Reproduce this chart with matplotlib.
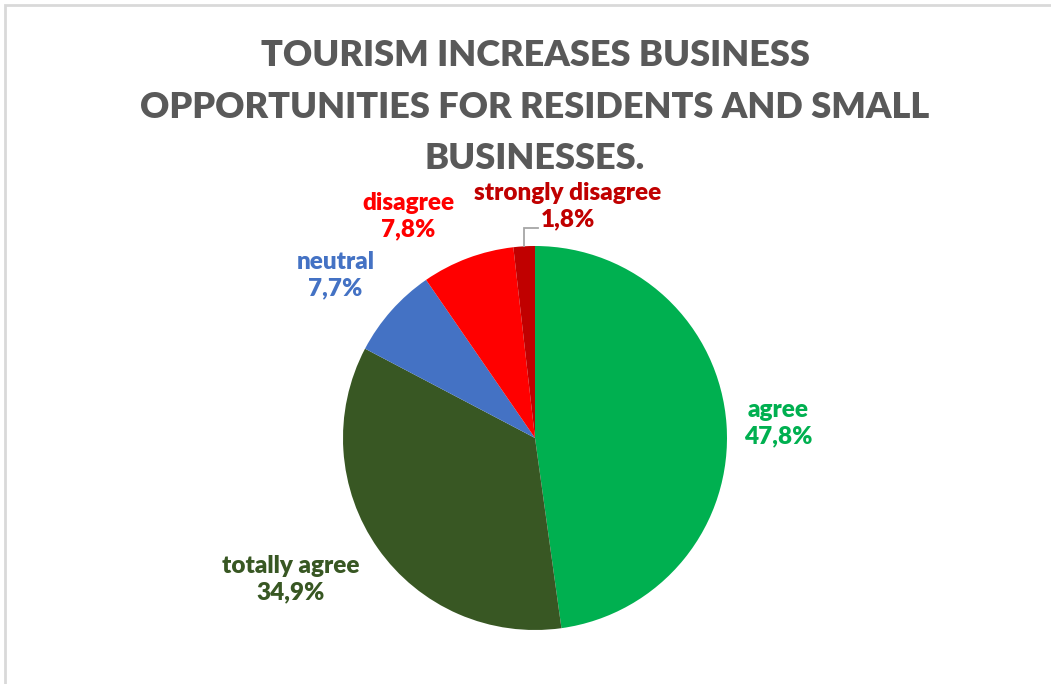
import numpy as np
import matplotlib
matplotlib.use("Agg")
import matplotlib.pyplot as plt
from matplotlib.patches import Rectangle

# survey answers, clockwise from 12 o'clock
answers = ["agree", "totally agree", "neutral", "disagree", "strongly disagree"]
shares = [47.8, 34.9, 7.7, 7.8, 1.8]
colors = ["#00B050", "#385723", "#4472C4", "#FF0000", "#C00000"]

title = "TOURISM INCREASES BUSINESS\nOPPORTUNITIES FOR RESIDENTS AND SMALL\nBUSINESSES."

# label centres (radius in pie units, angle in degrees)
label_pos = [(1.27, 3.5), (1.47, -150.0), (1.34, 140.8), (1.33, 119.8), (1.22, 82.0)]

W, H = 1051, 684
fig = plt.figure(figsize=(W / 100, H / 100), dpi=100)
fig.patch.set_facecolor("white")

# thin grey frame, only top and left edges show
fig.add_artist(Rectangle((5 / W, -0.1), 1.2, 1 - 5 / H + 0.1, transform=fig.transFigure,
                         fill=False, edgecolor="#D9D9D9", linewidth=2))

cx, cy, r = 535, 684 - 438, 192
ax = fig.add_axes([(cx - r) / W, (cy - r) / H, 2 * r / W, 2 * r / H])
wedges, _ = ax.pie(shares, colors=colors, startangle=90, counterclock=False,
                   radius=1, wedgeprops=dict(linewidth=0))
ax.set_xlim(-1, 1)
ax.set_ylim(-1, 1)
ax.set_aspect("equal")
ax.axis("off")

font = "Lato"
for w, name, val, col, (lr, la) in zip(wedges, answers, shares, colors, label_pos):
    t = np.deg2rad(la)
    ax.text(lr * np.cos(t), lr * np.sin(t), f"{name}\n{val:.1f}%".replace(".", ","),
            ha="center", va="center", fontsize=17.5, fontweight="heavy", color=col,
            family=font, linespacing=1.25, clip_on=False)

# leader line for the small slice
w = wedges[-1]
mid = np.deg2rad((w.theta1 + w.theta2) / 2)
x0, y0 = np.cos(mid), np.sin(mid)
ax.plot([x0, x0, x0 + 0.07], [y0, 1.094, 1.094], color="#A6A6A6", lw=1.3,
        clip_on=False, solid_joinstyle="miter")

fig.text(535 / W, 1 - 107 / H, title, ha="center", va="center", fontsize=26,
         fontweight="heavy", color="#595959", family=font, linespacing=1.68)

fig.savefig("out.png", dpi=100)
